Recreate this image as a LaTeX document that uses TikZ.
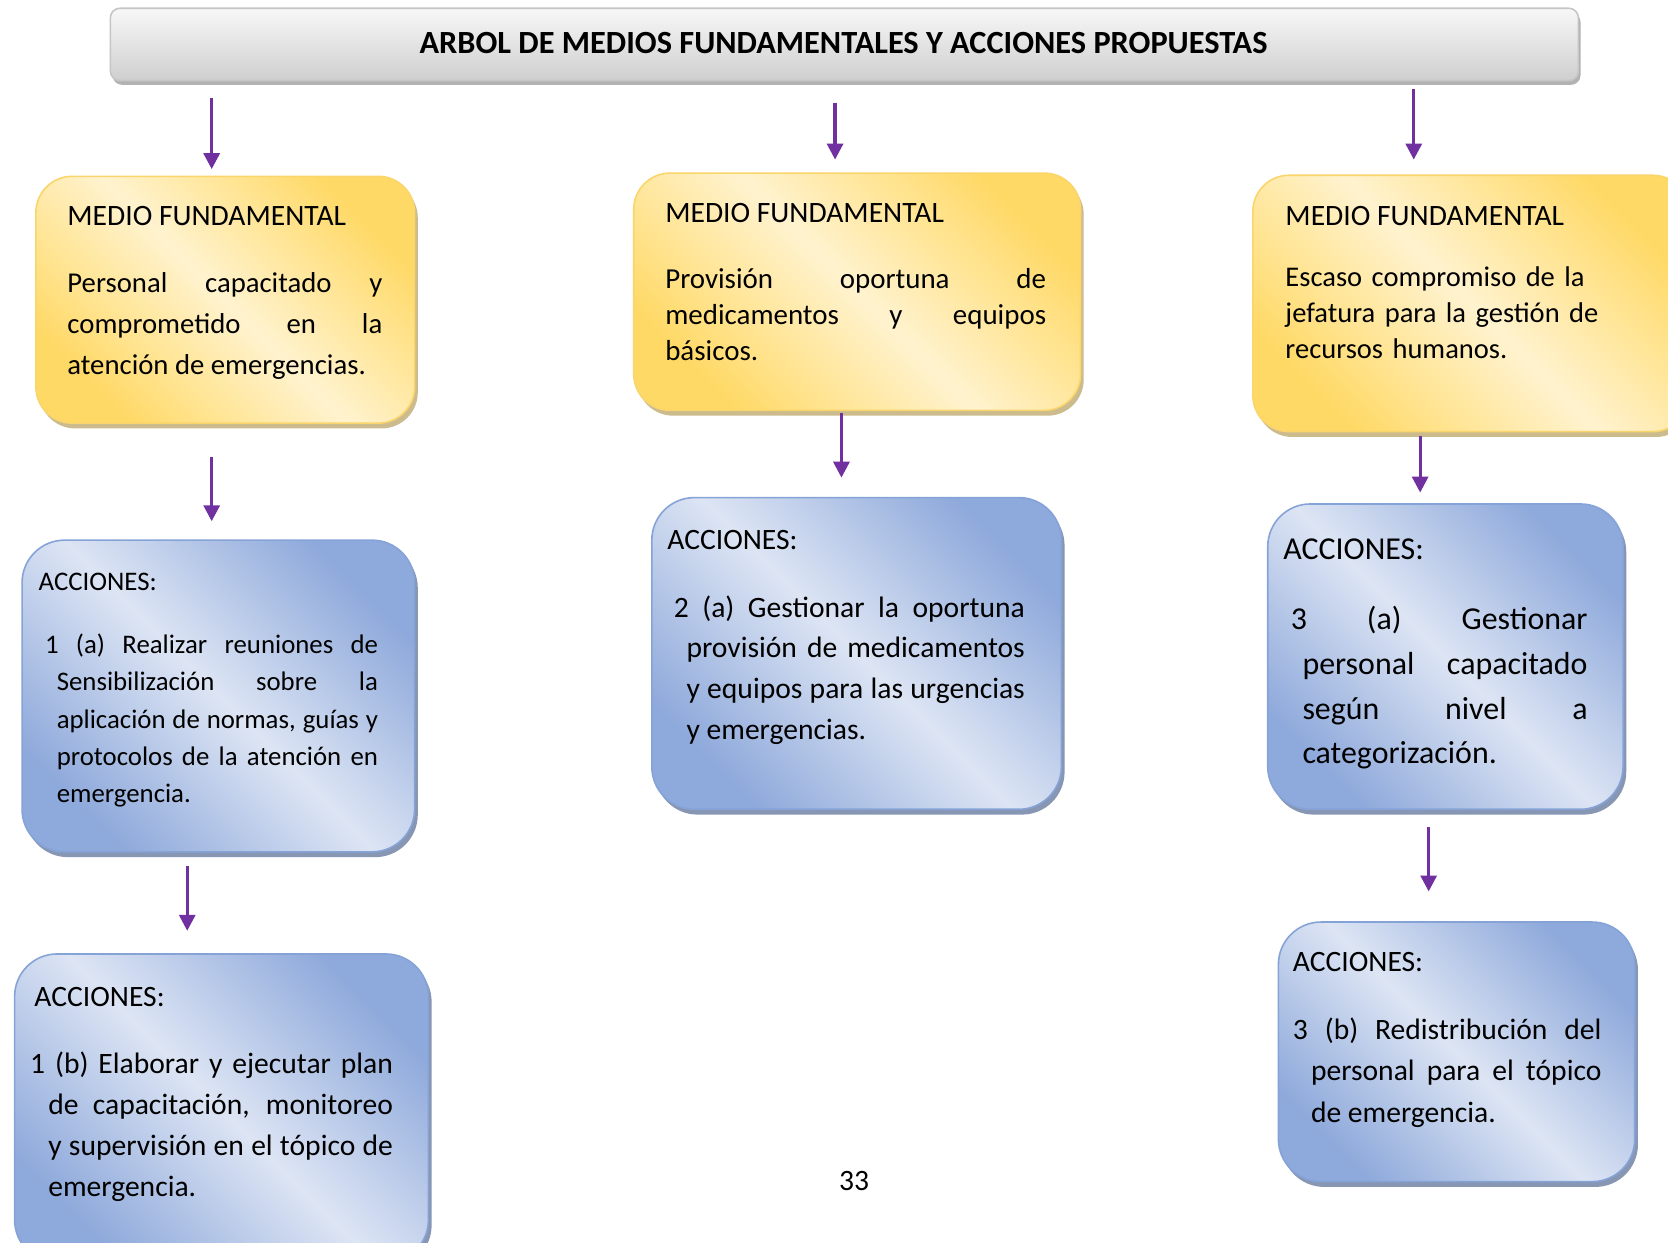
\documentclass[tikz,border=0pt]{standalone}
\usepackage{fontspec}
\setmainfont{Carlito}
\usetikzlibrary{shadows,arrows.meta}
\newlength\pxu \setlength\pxu{0.5pt}
\definecolor{ydark}{HTML}{FFD966}
\definecolor{ylight}{HTML}{FFF3CF}
\definecolor{yedge}{HTML}{FAD56B}
\definecolor{yshadow}{HTML}{CBBB8D}
\definecolor{bdark}{HTML}{8EA9DB}
\definecolor{blight}{HTML}{DDE5F4}
\definecolor{bedge}{HTML}{86A3D8}
\definecolor{bshadow}{HTML}{8796B3}
\definecolor{arrowc}{HTML}{7030A0}
\newcommand{\nohy}{\hyphenpenalty=10000\exhyphenpenalty=10000\tolerance=9999\hbadness=10000}
\begin{document}
\begin{tikzpicture}[x=0.5pt,y=-0.5pt,
  ybox/.style={draw=yedge, line width=1.5\pxu, rounded corners=34\pxu,
    top color=ydark, bottom color=ydark, middle color=ylight, shading angle=-45,
    drop shadow={shadow xshift=3\pxu, shadow yshift=-5\pxu, fill=yshadow, opacity=1},
    inner sep=0, anchor=north west},
  bbox/.style={draw=bedge, line width=1.5\pxu, rounded corners=40\pxu,
    top color=bdark, bottom color=bdark, middle color=blight, shading angle=-45,
    drop shadow={shadow xshift=3\pxu, shadow yshift=-5\pxu, fill=bshadow, opacity=1},
    inner sep=0, anchor=north west},
  tbox/.style={draw=gray!45, line width=1.5\pxu, rounded corners=9\pxu,
    top color=gray!6, bottom color=gray!38,
    drop shadow={shadow xshift=2\pxu, shadow yshift=-4\pxu, fill=gray!60, opacity=1},
    inner sep=0, anchor=north west},
  head/.style={inner sep=0, anchor=base west},
  para/.style={inner sep=0, anchor=base west, align=justify},
  arr/.style={draw=arrowc, line width=1.5pt, -{Triangle[width=7.5pt,length=7.5pt]}}
]
\useasboundingbox (0,0) rectangle (1568,1168);
\fill[white] (0,0) rectangle (1568,1168);
\clip (0,0) rectangle (1568,1168);

% title
\node[tbox, minimum width=1380\pxu, minimum height=68\pxu] (title) at (103,7) {};
\node[inner sep=0, font=\bfseries\fontsize{15.2pt}{18pt}\selectfont] (ttl) at (793,40) {ARBOL DE MEDIOS FUNDAMENTALES Y ACCIONES PROPUESTAS};

% medio fundamental boxes
\node[ybox, minimum width=356\pxu, minimum height=232\pxu] (m1) at (33,165) {};
\node[ybox, minimum width=420\pxu, minimum height=223\pxu] (m2) at (595,162) {};
\node[ybox, minimum width=410\pxu, minimum height=241\pxu] (m3) at (1177,164) {};

% acciones boxes
\node[bbox, minimum width=369\pxu, minimum height=293\pxu] (a1) at (20,507) {};
\node[bbox, minimum width=385\pxu, minimum height=293\pxu] (a2) at (612,467) {};
\node[bbox, minimum width=334\pxu, minimum height=287\pxu] (a3) at (1191,473) {};
\node[bbox, minimum width=389\pxu, minimum height=290\pxu] (b1) at (13,896) {};
\node[bbox, minimum width=335\pxu, minimum height=244\pxu] (b3) at (1201,866) {};

% texts medio
\node[head, font=\fontsize{13.9pt}{17pt}\selectfont] (m1h) at (63,212) {MEDIO FUNDAMENTAL};
\node[para, text width=296\pxu, font=\fontsize{13.5pt}{19.25pt}\selectfont] (m1t) at (63,275) {\nohy Personal capacitado y\linebreak comprometido en la\linebreak atención de emergencias.};
\node[head, font=\fontsize{13.9pt}{17pt}\selectfont] (m2h) at (625,209) {MEDIO FUNDAMENTAL};
\node[para, text width=358\pxu, font=\fontsize{13.6pt}{17pt}\selectfont] (m2t) at (625,271) {\nohy Provisión oportuna de\linebreak medicamentos y equipos\linebreak básicos.};
\node[head, font=\fontsize{13.9pt}{17pt}\selectfont] (m3h) at (1208,212) {MEDIO FUNDAMENTAL};
\node[inner sep=0, anchor=base west, align=left, text width=330\pxu, font=\fontsize{13.4pt}{17pt}\selectfont] (m3t) at (1208,269) {Escaso compromiso de la\\jefatura para la gestión de\\recursos humanos.};

% texts acciones
\begin{scope}[font=\fontsize{12.6pt}{17.6pt}\selectfont]
\node[head] (a1h) at (36,555) {ACCIONES:};
\node[para, text width=302\pxu] (a1t) at (53,614) {\nohy\hspace*{-11\pxu}1 (a) Realizar reuniones de\linebreak Sensibilización sobre la\linebreak aplicación de normas, guías y\linebreak protocolos de la atención en\linebreak emergencia.};
\end{scope}
\begin{scope}[font=\fontsize{13.9pt}{19.25pt}\selectfont]
\node[head] (a2h) at (627,517) {ACCIONES:};
\node[para, text width=318\pxu] (a2t) at (645,580) {\nohy\hspace*{-12\pxu}2 (a) Gestionar la oportuna\linebreak provisión de medicamentos\linebreak y equipos para las urgencias\linebreak y emergencias.};
\node[head] (b1h) at (32,946) {ACCIONES:};
\node[para, text width=324\pxu] (b1t) at (45,1009) {\nohy\hspace*{-17\pxu}1 (b) Elaborar y ejecutar plan\linebreak de capacitación, monitoreo\linebreak y supervisión en el tópico de\linebreak emergencia.};
\end{scope}
\begin{scope}[font=\fontsize{13.9pt}{19.5pt}\selectfont]
\node[head] (b3h) at (1215,913) {ACCIONES:};
\node[para, text width=273\pxu] (b3t) at (1232,977) {\nohy\hspace*{-17\pxu}3 (b) Redistribución del\linebreak personal para el tópico\linebreak de emergencia.};
\end{scope}
\begin{scope}[font=\fontsize{15pt}{21pt}\selectfont]
\node[head] (a3h) at (1206,526) {ACCIONES:};
\node[para, text width=268\pxu] (a3t) at (1224,592) {\nohy\hspace*{-11\pxu}3 (a) Gestionar\linebreak personal capacitado\linebreak según nivel a\linebreak categorización.};
\end{scope}

% page number
\node[inner sep=0, font=\fontsize{13.9pt}{17pt}\selectfont] (pg) at (803,1110) {33};

% arrows
\coordinate (x1) at (199,0);
\coordinate (x2) at (785,0);
\coordinate (x3) at (1329,0);
\coordinate (x5) at (791,0);
\coordinate (x6) at (1335,0);
\coordinate (x7) at (176,0);
\coordinate (x8) at (1343,0);
\draw[arr, shorten <=8pt, shorten >=3pt] (title.south -| x1) -- (m1.north -| x1);
\draw[arr, shorten <=10pt, shorten >=6pt] (title.south -| x2) -- (m2.north -| x2);
\draw[arr, shorten <=3.5pt, shorten >=7pt] (title.south -| x3) -- (m3.north -| x3);
\draw[arr, shorten <=15.5pt, shorten >=8.5pt] (m1.south -| x1) -- (a1.north -| x1);
\draw[arr, shorten <=1pt, shorten >=9pt] (m2.south -| x5) -- (a2.north -| x5);
\draw[arr, shorten <=1.5pt, shorten >=5pt] (m3.south -| x6) -- (a3.north -| x6);
\draw[arr, shorten <=6.5pt, shorten >=10.5pt] (a1.south -| x7) -- (b1.north -| x7);
\draw[arr, shorten <=8pt, shorten >=14pt] (a3.south -| x8) -- (b3.north -| x8);
\end{tikzpicture}
\end{document}
